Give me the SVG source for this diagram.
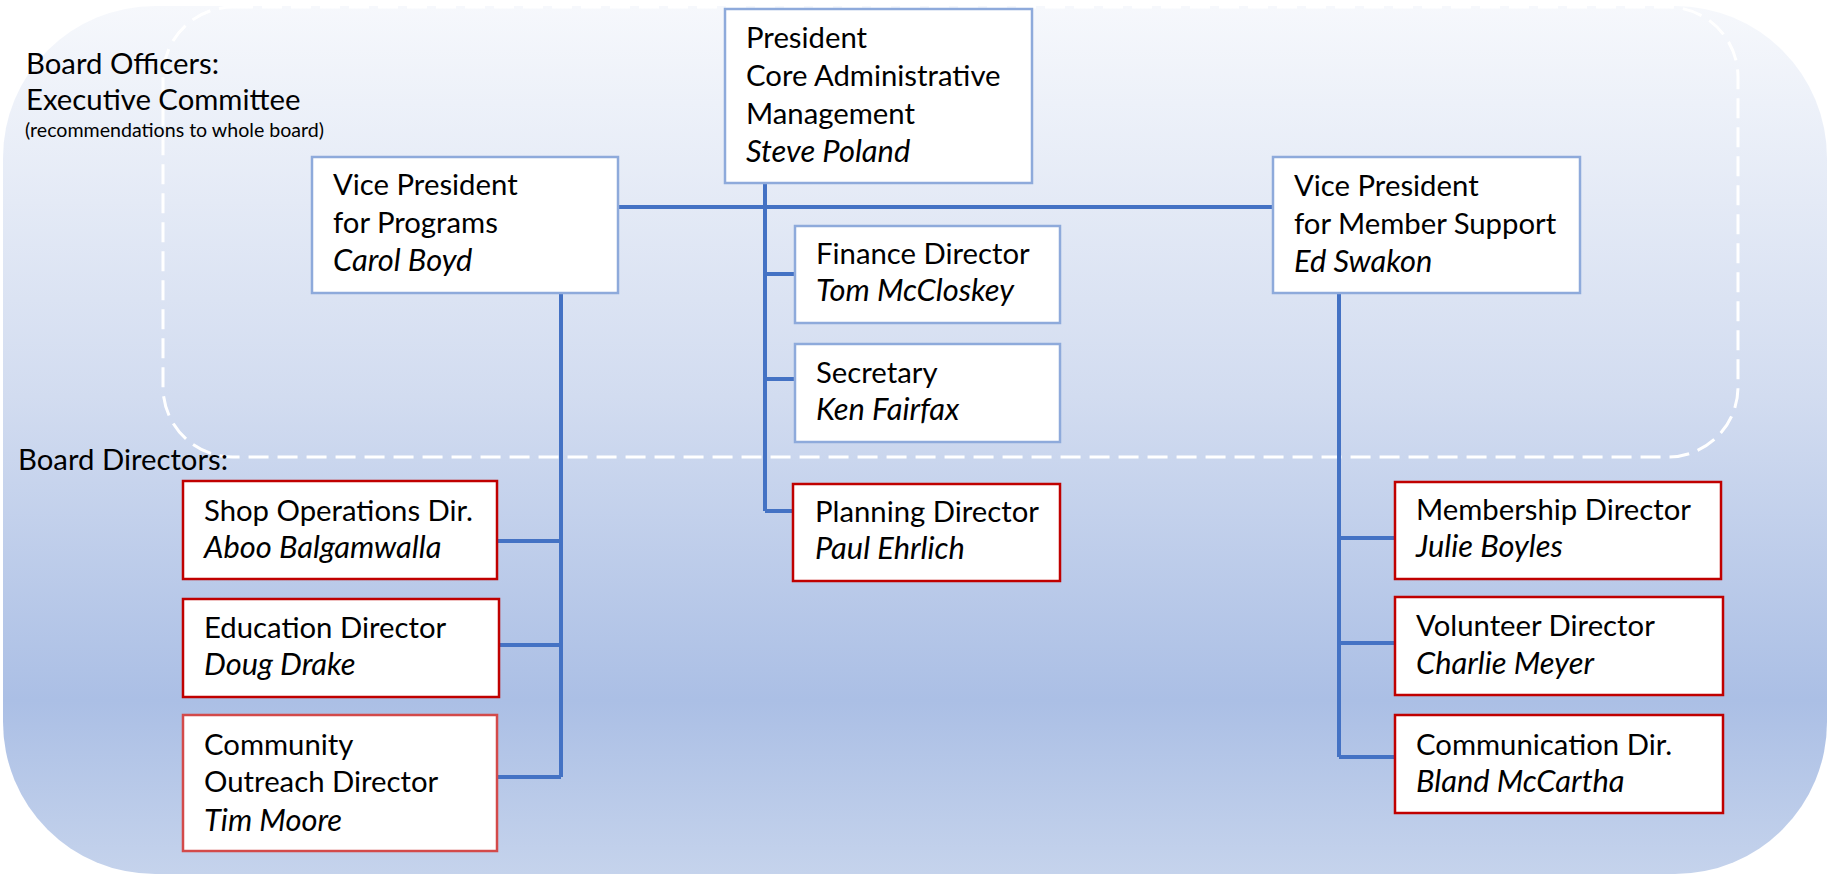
<svg xmlns="http://www.w3.org/2000/svg" width="1834" height="874" viewBox="0 0 1834 874">
<defs>
<linearGradient id="bg" x1="0" y1="0" x2="0" y2="1">
<stop offset="0" stop-color="#f6f8fc"/>
<stop offset="0.45" stop-color="#d2dcf0"/>
<stop offset="0.8" stop-color="#abbfe5"/>
<stop offset="1" stop-color="#c5d3ec"/>
</linearGradient>
<style>
.t{font-family:Lato,"Open Sans","Liberation Sans",sans-serif;font-size:29.3px;fill:#000}
.i{font-style:italic;font-size:30.8px}
.off{fill:#fff;stroke:#8eaadb;stroke-width:2.5}
.dir{fill:#fff;stroke:#c00000;stroke-width:2.5}
.dir2{fill:#fff;stroke:#d34a4a;stroke-width:2.5}
.c{stroke:#4472c4;stroke-width:4;fill:none}
.lbl{font-family:Lato,"Open Sans","Liberation Sans",sans-serif;font-size:29.3px;fill:#000}
.sm{font-family:Lato,"Open Sans","Liberation Sans",sans-serif;font-size:19.6px;fill:#000}
</style>
</defs>
<rect x="3" y="6" width="1824" height="868" rx="152" ry="152" fill="url(#bg)"/>
<rect x="163" y="7" width="1575" height="450" rx="70" ry="70" fill="none" stroke="#fff" stroke-width="3" stroke-dasharray="20 9"/>
<g id="connectors">
<path class="c" d="M618 207H1273"/>
<path class="c" d="M765 183V511M765 274H795M765 379H795M765 511H793"/>
<path class="c" d="M561 293V777M497 541H561M499 645H561M497 777H561"/>
<path class="c" d="M1339 293V757M1339 538H1395M1339 643H1395M1339 757H1395"/>
</g>
<g id="president">
<rect class="off" x="725" y="9" width="307" height="174"/>
<text class="t" x="746" y="48">President</text>
<text class="t" x="746" y="86">Core Administrative</text>
<text class="t" x="746" y="124">Management</text>
<text class="t i" x="746" y="162">Steve Poland</text>
</g>
<g id="vp-programs">
<rect class="off" x="312" y="157" width="306" height="136"/>
<text class="t" x="333" y="195">Vice President</text>
<text class="t" x="333" y="233">for Programs</text>
<text class="t i" x="333" y="271">Carol Boyd</text>
</g>
<g id="vp-member">
<rect class="off" x="1273" y="157" width="307" height="136"/>
<text class="t" x="1294" y="196">Vice President</text>
<text class="t" x="1294" y="234">for Member Support</text>
<text class="t i" x="1294" y="272">Ed Swakon</text>
</g>
<g id="finance">
<rect class="off" x="795" y="226" width="265" height="97"/>
<text class="t" x="816" y="264">Finance Director</text>
<text class="t i" x="816" y="301">Tom McCloskey</text>
</g>
<g id="secretary">
<rect class="off" x="795" y="344" width="265" height="98"/>
<text class="t" x="816" y="383">Secretary</text>
<text class="t i" x="816" y="420">Ken Fairfax</text>
</g>
<g id="planning">
<rect class="dir" x="793" y="484" width="267" height="97"/>
<text class="t" x="815" y="522">Planning Director</text>
<text class="t i" x="815" y="559">Paul Ehrlich</text>
</g>
<g id="shop-ops">
<rect class="dir" x="183" y="481" width="314" height="98"/>
<text class="t" x="204" y="521">Shop Operations Dir.</text>
<text class="t i" x="204" y="558">Aboo Balgamwalla</text>
</g>
<g id="education">
<rect class="dir" x="183" y="599" width="316" height="98"/>
<text class="t" x="204" y="638">Education Director</text>
<text class="t i" x="204" y="675">Doug Drake</text>
</g>
<g id="community">
<rect class="dir2" x="183" y="715" width="314" height="136"/>
<text class="t" x="204" y="755">Community</text>
<text class="t" x="204" y="792">Outreach Director</text>
<text class="t i" x="204" y="831">Tim Moore</text>
</g>
<g id="membership">
<rect class="dir" x="1395" y="482" width="326" height="97"/>
<text class="t" x="1416" y="520">Membership Director</text>
<text class="t i" x="1416" y="557">Julie Boyles</text>
</g>
<g id="volunteer">
<rect class="dir" x="1395" y="597" width="328" height="98"/>
<text class="t" x="1416" y="636">Volunteer Director</text>
<text class="t i" x="1416" y="674">Charlie Meyer</text>
</g>
<g id="communication">
<rect class="dir" x="1395" y="715" width="328" height="98"/>
<text class="t" x="1416" y="755">Communication Dir.</text>
<text class="t i" x="1416" y="792">Bland McCartha</text>
</g>
<g id="labels">
<text class="lbl" x="26" y="74">Board Officers:</text>
<text class="lbl" x="26" y="110">Executive Committee</text>
<text class="sm" x="25" y="137">(recommendations to whole board)</text>
<text class="lbl" x="18" y="470">Board Directors:</text>
</g>
</svg>
